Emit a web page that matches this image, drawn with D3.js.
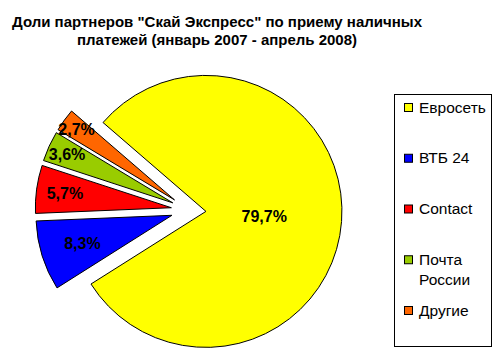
<!DOCTYPE html>
<html><head><meta charset="utf-8">
<script src="https://cdn.jsdelivr.net/npm/d3@7/dist/d3.min.js"></script>
<style>
html,body{margin:0;padding:0;background:#fff;}
svg{display:block;font-family:Arial,"Liberation Sans",sans-serif;}
</style></head>
<body><svg id="c" width="497" height="358"></svg>
<script>
// ---- data ----
const titleLines = ['Доли партнеров "Скай Экспресс" по приему наличных', 'платежей (январь 2007 - апрель 2008)'];
const categories = ["Евросеть", "ВТБ 24", "Contact", "Почта России", "Другие"];
const values = [79.7, 8.3, 5.7, 3.6, 2.7];
const labels = ["79,7%", "8,3%", "5,7%", "3,6%", "2,7%"];
const colors = ["#FFFF00", "#0000FF", "#FF0000", "#99CC00", "#FF6600"];

// ---- layout ----
const svg = d3.select("#c");
const cx = 188.6, cy = 210.1, R = 136, explode = 17.4;
const startDeg = -49.2;
const labelFrac = [0.43, 0.69, 0.79, 0.855, 0.89];

// title
const tl = [410, 280];
svg.selectAll("text.title").data(titleLines).join("text")
  .attr("class", "title")
  .attr("x", 217).attr("y", (d, i) => 26.5 + i * 18)
  .attr("text-anchor", "middle")
  .attr("font-size", 15).attr("font-weight", "bold")
  .attr("textLength", (d, i) => tl[i]).attr("lengthAdjust", "spacingAndGlyphs")
  .text(d => d);

const pie = d3.pie().sort(null)
  .startAngle(startDeg * Math.PI / 180)
  .endAngle(startDeg * Math.PI / 180 + 2 * Math.PI);
const arcs = pie(values);
const arc = d3.arc().innerRadius(0).outerRadius(R);

const g = svg.append("g").attr("transform", `translate(${cx},${cy})`);
const slices = g.selectAll("g.slice").data(arcs).join("g")
  .attr("class", "slice")
  .attr("transform", d => {
    const a = (d.startAngle + d.endAngle) / 2;
    return `translate(${explode * Math.sin(a)},${-explode * Math.cos(a)})`;
  });
slices.append("path")
  .attr("d", arc)
  .attr("fill", (d, i) => colors[i])
  .attr("stroke", "#000").attr("stroke-width", 1);
slices.append("text")
  .attr("x", (d, i) => { const a = (d.startAngle + d.endAngle) / 2; return R * labelFrac[i] * Math.sin(a); })
  .attr("y", (d, i) => { const a = (d.startAngle + d.endAngle) / 2; return -R * labelFrac[i] * Math.cos(a); })
  .attr("dy", "0.36em")
  .attr("text-anchor", "middle")
  .attr("font-size", 16).attr("font-weight", "bold")
  .text((d, i) => labels[i]);

// legend
svg.append("rect").attr("x", 394.5).attr("y", 94.5).attr("width", 97).attr("height", 252)
  .attr("fill", "#fff").attr("stroke", "#000").attr("stroke-width", 1);
const ly = d3.scalePoint().domain(categories).range([107, 310]);
const lg = svg.selectAll("g.leg").data(categories).join("g").attr("class", "leg")
  .attr("transform", d => `translate(404,${ly(d)})`);
lg.append("rect").attr("x", 0.5).attr("y", -3.5).attr("width", 8).attr("height", 8)
  .attr("fill", (d, i) => colors[i]).attr("stroke", "#000").attr("stroke-width", 1);
lg.each(function(d) {
  const parts = d === "Почта России" ? ["Почта", "России"] : [d];
  d3.select(this).selectAll("text").data(parts).join("text")
    .attr("x", 15).attr("y", (p, j) => j * 20).attr("dy", "0.36em")
    .attr("font-size", 15.5).text(p => p);
});
</script></body></html>
